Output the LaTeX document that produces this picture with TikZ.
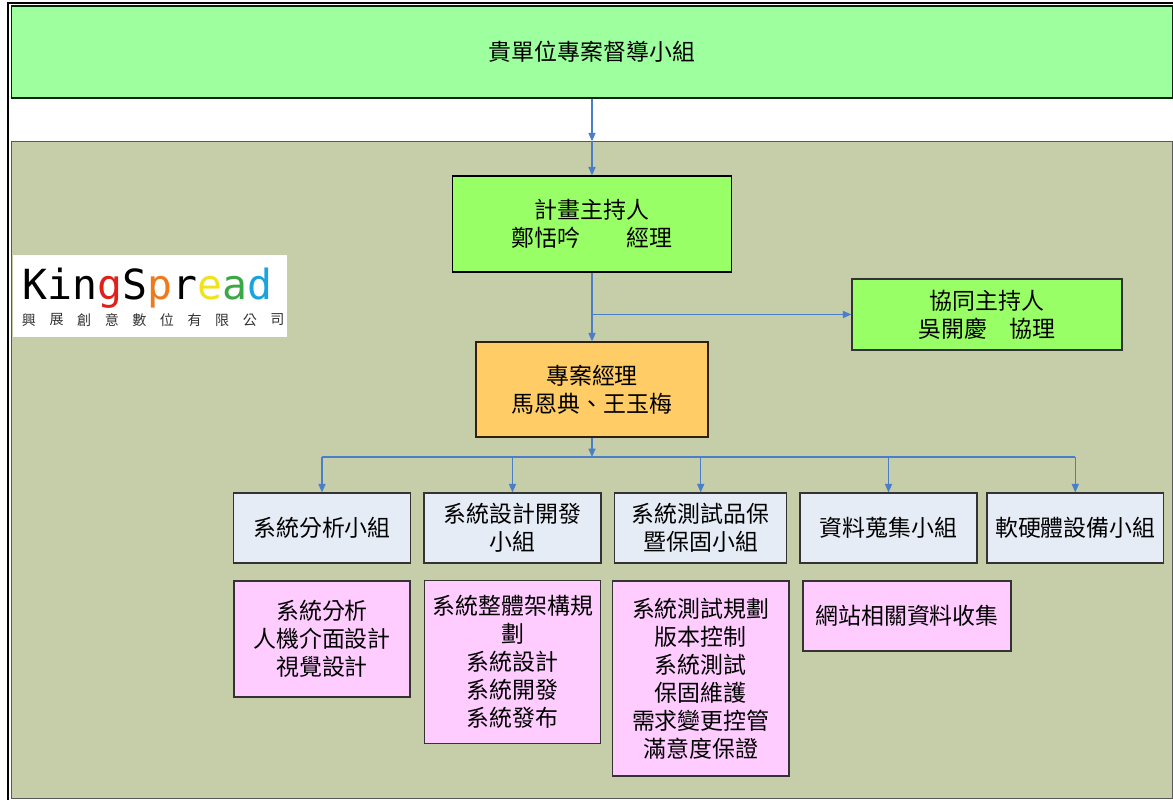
\documentclass[tikz,border=0pt]{standalone}
\usepackage{fontspec}
\newfontfamily\cjk{Noto Sans CJK TC}
\newfontfamily\logofont{DejaVu Sans Mono}
\usetikzlibrary{arrows.meta}
\definecolor{steergreen}{HTML}{9EFF9E}
\definecolor{leadgreen}{HTML}{99FF66}
\definecolor{pmorange}{HTML}{FFCC66}
\definecolor{olivebg}{HTML}{C6CEA9}
\definecolor{groupblue}{HTML}{E6ECF6}
\definecolor{taskpink}{HTML}{FFCCFF}
\definecolor{linkblue}{HTML}{4A7EC8}
\definecolor{logored}{HTML}{E0201B}
\definecolor{logoorange}{HTML}{EE7A1E}
\definecolor{logoyellow}{HTML}{F2E21A}
\definecolor{logogreen}{HTML}{3AA845}
\definecolor{logoblue}{HTML}{1AA3E0}
\tikzstyle{arrow} = [line width=0.9pt, draw=linkblue, -{Triangle[length=6pt,width=5pt]}]
\tikzstyle{link} = [line width=0.9pt, draw=linkblue]
\tikzstyle{unit} = [draw=black!80, line width=0.8pt, align=center, inner sep=2pt, font=\cjk\fontsize{16.3}{19.9}\selectfont]
\tikzstyle{group} = [unit, fill=groupblue, minimum height=1.75cm]
\tikzstyle{task} = [unit, fill=taskpink]

\begin{document}
\begin{tikzpicture}[x=0.025cm, y=-0.025cm]
            \useasboundingbox[fill=white] (0,0) rectangle (1173,800);
            \clip (0,0) rectangle (1173,800);
            \draw[line width=2pt] (8,3) rectangle (1210,840);
            % the two big areas
            \node[unit, fill=olivebg, draw=black!65, minimum width=29cm, minimum height=16.4cm] (team) at (592,470) {};
            \node[unit, fill=steergreen, draw=black!85!green, minimum width=29cm, minimum height=2.3cm] (steer) at (592,52) {貴單位專案督導小組};
            % logo
            \node[fill=white, inner sep=0pt, minimum width=6.85cm, minimum height=2.05cm] (logo) at (150,296) {};
            \foreach \ch/\col [count=\i from 0] in {K/black,i/black,n/black,g/logored,S/black,p/logoorange,r/black,e/logoyellow,a/logogreen,d/logoblue}
                \node[anchor=base, text=\col, inner sep=0pt, font=\logofont\fontsize{29.5}{29.5}\selectfont] (k\i) at (35+25*\i,300) {\ch};
            \foreach \ch [count=\i from 0] in {興,展,創,意,數,位,有,限,公,司}
                \node[text=black!80, inner sep=0pt, font=\cjk\fontsize{10}{10}\selectfont] (c\i) at (29+27.6*\i,320) {\ch};
            % leaders
            \node[unit, fill=leadgreen, draw=black, minimum width=6.975cm, minimum height=2.4cm] (pi) at (592,224) {計畫主持人\\鄭恬吟　　經理};
            \node[unit, fill=leadgreen, minimum width=6.75cm, minimum height=1.775cm] (copi) at (987,314.5) {協同主持人\\吳開慶　協理};
            \node[unit, fill=pmorange, draw=black!75!brown, minimum width=5.8cm, minimum height=2.375cm] (pm) at (592,389.5) {專案經理\\馬恩典、王玉梅};
            % groups
            \node[group, minimum width=4.425cm] (g1) at (322,528) {系統分析小組};
            \node[group, minimum width=4.425cm] (g2) at (512.5,528) {系統設計開發\\小組};
            \node[group, minimum width=4.3cm] (g3) at (700.7,528) {系統測試品保\\暨保固小組};
            \node[group, minimum width=4.425cm] (g4) at (888.5,528) {資料蒐集小組};
            \node[group, minimum width=4.415cm] (g5) at (1075.3,528) {軟硬體設備小組};
            % tasks
            \node[task, minimum width=4.4cm, minimum height=2.9cm] (t1) at (322,639) {系統分析\\人機介面設計\\視覺設計};
            \node[task, minimum width=4.41cm, minimum height=4.06cm] (t2) at (512.7,662) {系統整體架構規\\劃\\系統設計\\系統開發\\系統發布};
            \node[task, minimum width=4.41cm, minimum height=4.875cm] (t3) at (700.8,678.5) {系統測試規劃\\版本控制\\系統測試\\保固維護\\需求變更控管\\滿意度保證};
            \node[task, minimum width=5.2cm, minimum height=1.75cm] (t4) at (907,616) {網站相關資料收集};
            % connectors
            \coordinate (bus) at (592,457);
            \draw[arrow] (steer.south) -- (team.north);
            \draw[arrow] (team.north) -- (pi.north);
            \draw[arrow] (pi.south) -- (pm.north);
            \draw[arrow] (pi.south |- copi.west) -- (copi.west);
            \draw[arrow] (pm.south) -- (bus);
            \draw[link] (g1.north |- bus) -- (g5.north |- bus);
            \foreach \g in {g1,g2,g3,g4,g5}
                \draw[arrow] (\g.north |- bus) -- (\g.north);
        \end{tikzpicture}
\end{document}
